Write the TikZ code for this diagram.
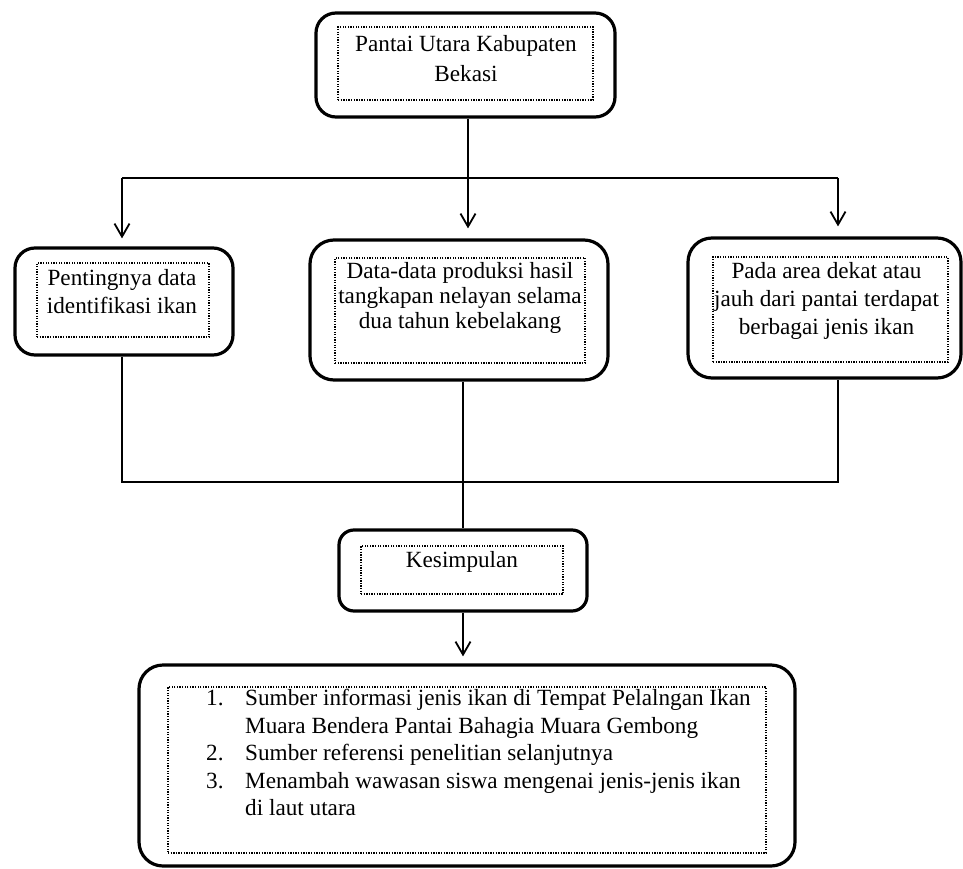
\documentclass[tikz,border=0pt]{standalone}
\usepackage{fontspec}
\setmainfont{Liberation Serif}
\usetikzlibrary{arrows.meta}
\begin{document}
\begin{tikzpicture}[x=1pt,y=-1pt,
  outerbox/.style={draw, line width=3.2pt, rounded corners=20pt, inner sep=0pt},
  innerbox/.style={draw, line width=1.3pt, dash pattern=on 1.3pt off 1.3pt, inner sep=0pt},
  boxtext/.style={inner sep=0pt, align=center, font=\fontsize{23.2}{28}\selectfont},
  conn/.style={draw, line width=1.8pt},
  tipdown/.style={-{Straight Barb[length=13pt,width=15pt]}}
]
\useasboundingbox (0,0) rectangle (963,869);

% top box
\node[outerbox, minimum width=299pt, minimum height=104pt] (top) at (465.5,65) {};
\node[innerbox, minimum width=255pt, minimum height=73pt] (topin) at (465.5,63.5) {};
\node[boxtext, anchor=north, font=\fontsize{23.2}{30}\selectfont] (toptxt) at (466,35) {Pantai Utara Kabupaten\\Bekasi};

% left box
\node[outerbox, minimum width=218pt, minimum height=107pt] (lbox) at (124,301.5) {};
\node[innerbox, minimum width=172pt, minimum height=74pt] (lboxin) at (123,300) {};
\node[boxtext, anchor=north] (ltxt) at (122,269) {Pentingnya data\\identifikasi ikan};

% middle box
\node[outerbox, rounded corners=24pt, minimum width=298pt, minimum height=140pt] (mbox) at (459,310) {};
\node[innerbox, minimum width=250pt, minimum height=105pt] (mboxin) at (460,310.5) {};
\node[boxtext, anchor=north, font=\fontsize{23.2}{25}\selectfont] (mtxt) at (460,262) {Data-data produksi hasil\\tangkapan nelayan selama\\dua tahun kebelakang};

% right box
\node[outerbox, rounded corners=24pt, minimum width=273pt, minimum height=140pt] (rbox) at (824.5,308) {};
\node[innerbox, minimum width=235pt, minimum height=105pt] (rboxin) at (830.5,309.5) {};
\node[boxtext, anchor=north, font=\fontsize{23.2}{28}\selectfont] (rtxt) at (826.5,262) {Pada area dekat atau\\jauh dari pantai terdapat\\berbagai jenis ikan};

% kesimpulan
\node[outerbox, rounded corners=15pt, minimum width=248pt, minimum height=81pt] (kes) at (463,570.5) {};
\node[innerbox, minimum width=202pt, minimum height=48pt] (kesin) at (462,570) {};
\node[boxtext, anchor=base] (kestxt) at (462,567) {Kesimpulan};

% result box
\node[outerbox, rounded corners=24pt, minimum width=656pt, minimum height=201pt] (res) at (467,765.5) {};
\node[innerbox, minimum width=598pt, minimum height=166pt] (resin) at (467,770) {};
\node[boxtext, anchor=north west, align=left, font=\fontsize{23.2}{27.5}\selectfont] (restxt) at (206,689)
  {\makebox[39pt][l]{1.}Sumber informasi jenis ikan di Tempat Pelalngan Ikan\\
   \hspace*{39pt}Muara Bendera Pantai Bahagia Muara Gembong\\
   \makebox[39pt][l]{2.}Sumber referensi penelitian selanjutnya\\
   \makebox[39pt][l]{3.}Menambah wawasan siswa mengenai jenis-jenis ikan\\
   \hspace*{39pt}di laut utara};

% connectors top
\coordinate (hm) at (468,178);
\coordinate (hl) at (122,178);
\coordinate (hr) at (838,178);
\draw[conn] (top.south -| hm) -- (hm);
\draw[conn] (hl) -- (hr);
\draw[conn, tipdown, shorten >=8pt] (hl) -- (lbox.north -| hl);
\draw[conn, tipdown, shorten >=10pt] (hm) -- (mbox.north -| hm);
\draw[conn, tipdown, shorten >=10pt] (hr) -- (rbox.north -| hr);

% connectors bottom
\coordinate (bl) at (122,482);
\coordinate (br) at (838,482);
\draw[conn] (lbox.south -| bl) -- (bl) -- (br) -- (rbox.south -| br);
\draw[conn] (mbox.south -| kes.north) -- (kes.north);
\draw[conn, tipdown, shorten >=7pt] (kes.south) -- (res.north -| kes.south);
\end{tikzpicture}
\end{document}
